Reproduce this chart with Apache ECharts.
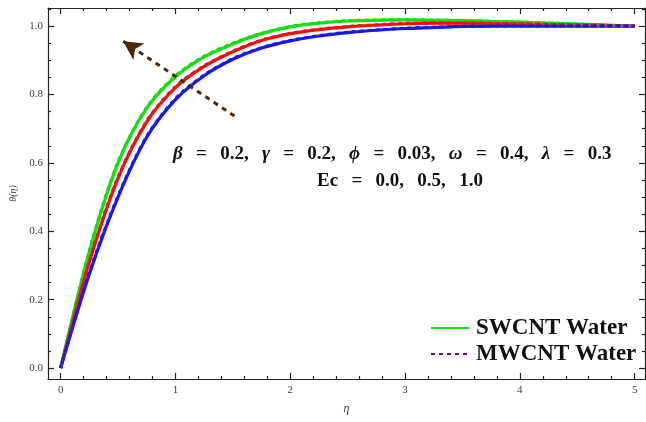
<!DOCTYPE html>
<html>
<head>
<meta charset="utf-8">
<script src="https://cdn.jsdelivr.net/npm/echarts@6/dist/echarts.min.js"></script>
<style>
html,body{margin:0;padding:0;background:#fff;}
#c{width:646px;height:422px;}
</style>
</head>
<body>
<div id="c"></div>
<script>
// eta values (x axis)
const eta = [0, 0.25, 0.5, 0.75, 1.0, 1.25, 1.5, 1.75, 2.0, 2.25, 2.5, 2.75, 3.0, 3.25, 3.5, 3.75, 4.0, 4.25, 4.5, 4.75, 5.0];
// SWCNT Water (solid) for Ec = 1.0 (green), 0.5 (red), 0.0 (blue)
const swGreen = [0, 0.34, 0.60, 0.76, 0.852, 0.91, 0.948, 0.978, 0.998, 1.009, 1.015, 1.017, 1.018, 1.017, 1.016, 1.014, 1.012, 1.009, 1.006, 1.003, 1.0];
const swRed   = [0, 0.31, 0.555, 0.72, 0.82, 0.882, 0.925, 0.958, 0.978, 0.99, 0.998, 1.003, 1.007, 1.009, 1.009, 1.008, 1.007, 1.005, 1.004, 1.002, 1.0];
const swBlue  = [0, 0.275, 0.50, 0.675, 0.785, 0.855, 0.903, 0.936, 0.957, 0.971, 0.981, 0.988, 0.993, 0.996, 0.999, 1.0, 1.0, 1.0, 1.0, 1.0, 1.0];
// MWCNT Water (dashed)
const mwGreen = [0, 0.344, 0.604, 0.763, 0.855, 0.912, 0.95, 0.979, 0.999, 1.01, 1.016, 1.018, 1.019, 1.018, 1.016, 1.014, 1.012, 1.009, 1.006, 1.003, 1.0];
const mwRed   = [0, 0.314, 0.559, 0.723, 0.823, 0.884, 0.927, 0.959, 0.979, 0.991, 0.999, 1.004, 1.008, 1.009, 1.009, 1.008, 1.007, 1.005, 1.004, 1.002, 1.0];
const mwBlue  = [0, 0.279, 0.504, 0.678, 0.788, 0.857, 0.905, 0.937, 0.958, 0.972, 0.982, 0.989, 0.994, 0.997, 0.999, 1.0, 1.0, 1.0, 1.0, 1.0, 1.0];
// tick labels
const xTicks = [0, 1, 2, 3, 4, 5];
const yTicks = [0.0, 0.2, 0.4, 0.6, 0.8, 1.0];
// arrow endpoints (data coords)
const arrowFrom = [1.514, 0.737];
const arrowTo = [0.545, 0.956];

const XMIN = -0.11, XMAX = 5.09, YMIN = -0.032, YMAX = 1.053;
const xMinor = [], yMinor = [];
for (let i = 0; i <= 25; i++) { if (i % 5) xMinor.push(+(i * 0.2).toFixed(2)); }
for (let i = 0; i <= 21; i++) { if (i % 4) yMinor.push(+(i * 0.05).toFixed(2)); }

const tickColor = '#222';
const labelColor = '#3a3a55';
const serif = '"Liberation Serif", "DejaVu Serif", serif';

function xa(pos, vals, len, showLabel, showLine) {
  return {
    type: 'value', position: pos, min: XMIN, max: XMAX,
    splitLine: {show: false},
    axisLine: {show: showLine, onZero: false, lineStyle: {color: tickColor, width: 1.2}},
    axisTick: {show: true, inside: true, length: len, customValues: vals, lineStyle: {color: tickColor, width: 1.2}},
    axisLabel: {show: showLabel, customValues: vals, color: labelColor, fontFamily: serif, fontSize: 11, margin: 6,
      formatter: v => String(v)}
  };
}
function ya(pos, vals, len, showLabel, showLine) {
  return {
    type: 'value', position: pos, min: YMIN, max: YMAX,
    splitLine: {show: false},
    axisLine: {show: showLine, onZero: false, lineStyle: {color: tickColor, width: 1.2}},
    axisTick: {show: true, inside: true, length: len, customValues: vals, lineStyle: {color: tickColor, width: 1.2}},
    axisLabel: {show: showLabel, customValues: vals, color: labelColor, fontFamily: serif, fontSize: 11, margin: 5,
      formatter: v => v.toFixed(1)}
  };
}

const xAxes = [
  Object.assign(xa('bottom', xTicks, 6, true, true), {name: 'η', nameLocation: 'middle', nameGap: 24,
    nameTextStyle: {fontFamily: serif, fontStyle: 'italic', fontSize: 12, color: labelColor}}),
  xa('bottom', xMinor, 3, false, false),
  xa('top', xTicks, 6, false, true),
  xa('top', xMinor, 3, false, false)
];
const yAxes = [
  Object.assign(ya('left', yTicks, 6, true, true), {name: 'θ(η)', nameLocation: 'middle', nameGap: 30, nameRotate: 90,
    nameTextStyle: {fontFamily: serif, fontStyle: 'italic', fontSize: 10, color: labelColor}}),
  ya('left', yMinor, 3, false, false),
  ya('right', yTicks, 6, false, true),
  ya('right', yMinor, 3, false, false)
];

function pts(arr) { return eta.map((e, i) => [e, arr[i]]); }
function solid(name, arr, color) {
  return {type: 'line', name: name, data: pts(arr), smooth: 0.3, symbol: 'none', silent: true,
    lineStyle: {color: color, width: 3.2}, itemStyle: {color: color}, z: 2};
}
function dashed(name, arr, color) {
  return {type: 'line', name: name, data: pts(arr), smooth: 0.3, symbol: 'none', silent: true,
    lineStyle: {color: color, width: 3, type: [4, 4]}, itemStyle: {color: color}, z: 3};
}

const green = '#10e010', red = '#f01010', blue = '#1818f0';
const SP = '\u2002\u2009';

const option = {
  animation: false,
  backgroundColor: '#fff',
  grid: {left: 44, right: 1, top: 8, bottom: 43, containLabel: false},
  xAxis: xAxes,
  yAxis: yAxes,
  legend: {
    orient: 'vertical', left: 430, top: 316, padding: 0, itemGap: 2,
    itemWidth: 38, itemHeight: 14, data: ['SWCNT Water', 'MWCNT Water'],
    itemStyle: {color: 'rgba(0,0,0,0)', borderWidth: 0, opacity: 0},
    textStyle: {fontFamily: serif, fontWeight: 'bold', fontSize: 23, color: '#111', lineHeight: 24, padding: [0, 0, 0, 2]},
    selectedMode: false
  },
  series: [
    solid('SWCNT Water', swGreen, green),
    solid('sw red', swRed, red),
    solid('sw blue', swBlue, blue),
    dashed('mw green', mwGreen, green),
    dashed('mw red', mwRed, red),
    dashed('mw blue', mwBlue, blue),
    {type: 'line', name: 'MWCNT Water', data: [], symbol: 'none',
      lineStyle: {color: '#5a1660', width: 2, type: [4, 4]}, itemStyle: {color: '#5a1660'},
      markLine: {
        silent: true, symbol: ['none', 'arrow'], symbolSize: [15, 19], precision: 4,
        label: {show: false},
        lineStyle: {color: '#4a2a0c', width: 3, type: [5, 5]},
        emphasis: {disabled: true},
        data: [[{coord: arrowFrom}, {coord: arrowTo}]]
      }}
  ],
  graphic: [
    {type: 'text', left: 173, top: 145, silent: true,
      style: {
        text: '{g|β}' + SP + '=' + SP + '0.2,' + SP + '{g|γ}' + SP + '=' + SP + '0.2,' + SP + '{g|ϕ}' + SP + '=' + SP + '0.03,' + SP +
              '{g|ω}' + SP + '=' + SP + '0.4,' + SP + '{g|λ}' + SP + '=' + SP + '0.3',
        font: 'bold 19px ' + serif, fill: '#111',
        rich: {g: {fontStyle: 'italic', fontWeight: 'bold', fontSize: 19, fontFamily: serif, fill: '#111'}}
      }},
    {type: 'text', left: 317, top: 172, silent: true,
      style: {text: 'Ec' + SP + '=' + SP + '0.0,' + SP + '0.5,' + SP + '1.0', font: 'bold 19px ' + serif, fill: '#111'}}
  ]
};

const chart = echarts.init(document.getElementById('c'), null, {renderer: 'canvas'});
chart.setOption(option);
</script>
</body>
</html>
